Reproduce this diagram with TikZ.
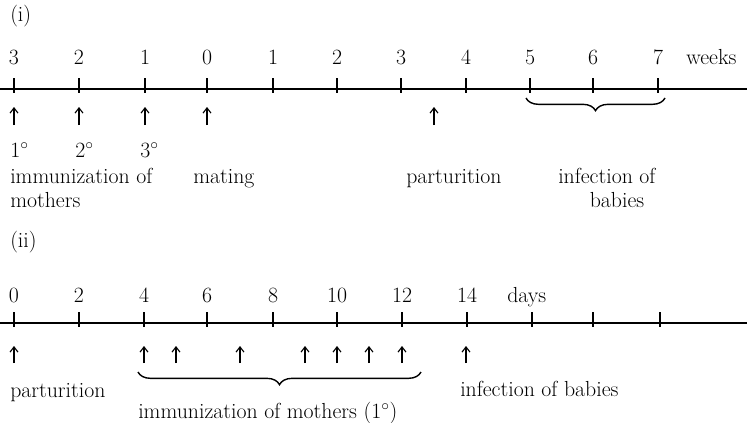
\documentclass[tikz,border=0pt]{standalone}
\usepackage{tikz}
\usetikzlibrary{arrows.meta,decorations.pathreplacing}

\begin{document}
\begin{tikzpicture}[
  x=0.025cm, y=-0.025cm,
  font=\fontsize{15.5}{18}\selectfont,
  axis/.style ={line width=1pt},
  tick/.style ={line width=0.8pt},
  num/.style  ={anchor=base, inner sep=0pt},
  txt/.style  ={anchor=base west, inner sep=0pt},
  up/.style   ={-{Straight Barb[length=1.3mm,width=2mm]}, line width=0.8pt},
  brc/.style  ={decorate, decoration={brace, mirror, amplitude=9pt}, line width=1pt},
]
\useasboundingbox (0,0) rectangle (747,422);

% (i) time scale in weeks
\node[txt] (lab1) at (10,21) {(i)};
\coordinate (wl) at (0,89);
\coordinate (wr) at (747,89);
\draw[axis] (wl) -- (wr);
\foreach \x/\n [count=\i] in {14/3,79/2,145/1,207/0,273/1,337/2,401/3,466/4,530/5,593/6,658/7}{
  \node[num] (wn\i) at (\x,64) {\n};
  \draw[tick] (\x,78) -- (\x,93);
}
\node[txt] (weeks) at (686,64) {weeks};

\foreach \x [count=\i] in {14,79,145,207,434}{
  \coordinate (wa\i) at (\x,125);
  \coordinate (wt\i) at (\x,107);
  \draw[up] (wa\i) -- (wt\i);
}
\node[txt] (d1) at (10,157)  {1$^\circ$};
\node[txt] (d2) at (75,157)  {2$^\circ$};
\node[txt] (d3) at (140,157) {3$^\circ$};

\node[txt] (immun1) at (10,183) {immunization of};
\node[txt] (moth1)  at (10,207) {mothers};
\node[txt] (mating) at (193,183) {mating};
\node[txt] (part1)  at (406,183) {parturition};
\node[txt] (inf1)   at (558,183) {infection of};
\node[num] (bab1)   at (617,207) {babies};

\coordinate (b1l) at (526,98);
\coordinate (b1r) at (665,98);
\draw[brc] (b1l) -- (b1r);

% (ii) time scale in days
\node[txt] (lab2) at (10,247) {(ii)};
\coordinate (dl) at (0,323);
\coordinate (dr) at (747,323);
\draw[axis] (dl) -- (dr);
\foreach \x/\n [count=\i] in {14/0,79/2,144/4,207/6,273/8,337/10,402/12,467/14,532/,593/,660/}{
  \node[num] (dn\i) at (\x,302) {\n};
  \draw[tick] (\x,312) -- (\x,327);
}
\node[txt] (days) at (507,302) {days};

\foreach \x [count=\i] in {14,144,176,240,305,337,369,402,466}{
  \coordinate (da\i) at (\x,363);
  \coordinate (dt\i) at (\x,346);
  \draw[up] (da\i) -- (dt\i);
}

\coordinate (b2l) at (138,372);
\coordinate (b2r) at (421,372);
\draw[brc] (b2l) -- (b2r);

\node[txt] (part2)  at (10,397) {parturition};
\node[txt] (immun2) at (138,418) {immunization of mothers (1$^\circ$)};
\node[txt] (inf2)   at (460,396) {infection of babies};

\end{tikzpicture}
\end{document}
